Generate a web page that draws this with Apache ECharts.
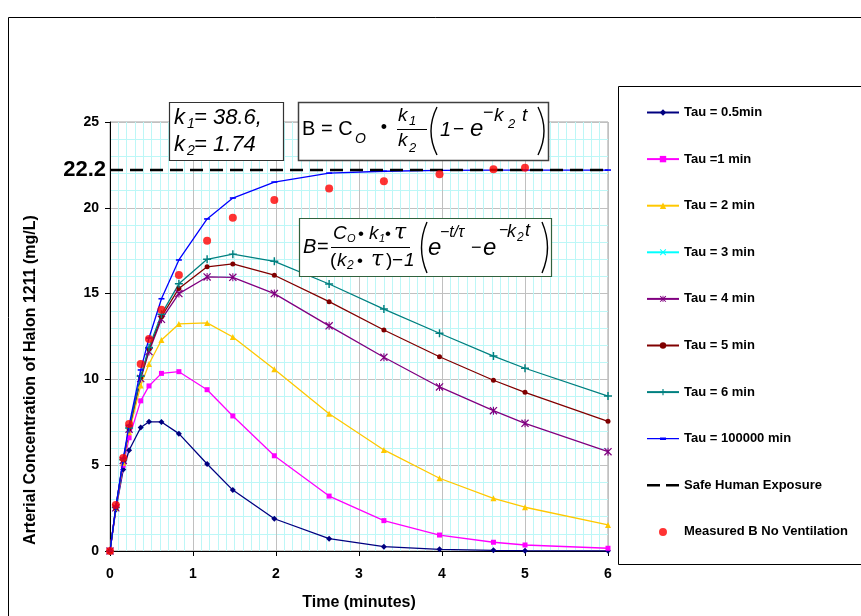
<!DOCTYPE html>
<html>
<head>
<meta charset="utf-8">
<script src="https://cdn.jsdelivr.net/npm/echarts@6/dist/echarts.min.js"></script>
<style>
html,body{margin:0;padding:0;background:#fff;}
#chart{width:861px;height:616px;}
</style>
</head>
<body>
<div id="chart"></div>
<script>
// ---------------- data ----------------
const times = [0, 0.07, 0.16, 0.23, 0.37, 0.47, 0.62, 0.83, 1.17, 1.48, 1.98, 2.64, 3.3, 3.97, 4.62, 5, 6];
const tau05 = [0, 2.4, 4.75, 5.87, 7.2, 7.53, 7.52, 6.84, 5.07, 3.55, 1.88, 0.72, 0.25, 0.1, 0.04, 0.02, 0.01];
const tau1 = [0, 2.5, 5.0, 6.6, 8.75, 9.62, 10.35, 10.45, 9.4, 7.87, 5.55, 3.2, 1.77, 0.93, 0.51, 0.35, 0.16];
const tau2 = [0, 2.5, 5.15, 6.92, 9.65, 10.9, 12.3, 13.23, 13.29, 12.47, 10.59, 8.0, 5.89, 4.24, 3.07, 2.55, 1.52];
const tau3 = [];
const tau4 = [0, 2.52, 5.28, 7.1, 10.05, 11.62, 13.5, 15.0, 15.97, 15.95, 15.0, 13.12, 11.29, 9.56, 8.18, 7.44, 5.79];
const tau5 = [0, 2.53, 5.3, 7.13, 10.11, 11.75, 13.65, 15.3, 16.56, 16.73, 16.07, 14.53, 12.88, 11.32, 9.95, 9.25, 7.56];
const tau6 = [0, 2.53, 5.32, 7.17, 10.18, 11.86, 13.8, 15.57, 17.0, 17.3, 16.88, 15.56, 14.1, 12.69, 11.36, 10.65, 9.03];
const tau100000 = [0, 2.55, 5.4, 7.33, 10.55, 12.41, 14.7, 16.96, 19.35, 20.57, 21.5, 22.02, 22.13, 22.18, 22.2, 22.2, 22.2];
const measured = [0, 2.68, 5.42, 7.4, 10.9, 12.35, 14.06, 16.08, 18.08, 19.42, 20.45, 21.13, 21.54, 21.95, 22.24, 22.34];
const safeLevel = 22.2;
const safeSpan = [0, 6];
const seriesNames = ['Tau = 0.5min', 'Tau =1 min', 'Tau = 2 min', 'Tau = 3 min', 'Tau = 4 min',
  'Tau = 5 min', 'Tau = 6 min', 'Tau = 100000 min', 'Safe Human Exposure', 'Measured B No Ventilation'];
const xRange = [0, 6, 1];
const yRange = [0, 25, 5];
const safeLabel = '22.2';

// ---------------- helpers ----------------
const FF = 'Liberation Sans, Arial, sans-serif';
const pairs = vals => vals.map((v, i) => [times[i], v]);
const PLUS = 'path://M4.1,0H5.9V4.1H10V5.9H5.9V10H4.1V5.9H0V4.1H4.1Z';
const CROSS = 'path://M0,1.1L1.1,0L10,8.9L8.9,10Z M8.9,0L10,1.1L1.1,10L0,8.9Z';
const STAR = 'path://M0,1.1L1.1,0L10,8.9L8.9,10Z M8.9,0L10,1.1L1.1,10L0,8.9Z M4.35,0H5.65V10H4.35Z';
const DASH = 'path://M0,0H10V2.6H0Z';

function lineSeries(name, vals, color, symbol, size, z) {
  return {
    type: 'line', name, data: pairs(vals), symbol, symbolSize: size,
    lineStyle: { color, width: 1.3 }, itemStyle: { color },
    z: z || 2, animation: false, emphasis: { disabled: true }
  };
}

function txt(x, y, s, size, o) {
  o = o || {};
  return {
    type: 'text', x, y, z: 60, silent: true,
    style: {
      text: s, fontSize: size, fontFamily: o.ff || FF,
      fontStyle: o.it ? 'italic' : 'normal', fontWeight: o.bold ? 'bold' : 'normal',
      fill: '#000', align: o.align || 'left', verticalAlign: 'middle'
    }
  };
}
function paren(x, y1, y2, cx) {
  return { type: 'bezierCurve', z: 60, silent: true,
    shape: { x1: x, y1, x2: x, y2, cpx1: cx, cpy1: (y1 + y2) / 2 },
    style: { stroke: '#000', lineWidth: 1.4, fill: null } };
}
function hline(x1, x2, y) {
  return { type: 'line', z: 60, silent: true, shape: { x1, y1: y, x2, y2: y }, style: { stroke: '#000', lineWidth: 1 } };
}
function box(x, y, w, h, stroke, lw) {
  return { type: 'rect', z: 55, silent: true, shape: { x, y, width: w, height: h }, style: { fill: '#fff', stroke, lineWidth: lw } };
}

const graphics = [
  // outer frame and legend frame
  { type: 'rect', z: 1, silent: true, shape: { x: 8.5, y: 17.5, width: 1000, height: 1000 }, style: { fill: 'none', stroke: '#000', lineWidth: 1 } },
  { type: 'rect', z: 1, silent: true, shape: { x: 618.5, y: 86.5, width: 400, height: 478 }, style: { fill: 'none', stroke: '#000', lineWidth: 1 } },
  // y axis title
  { type: 'text', x: 31, y: 380, rotation: Math.PI / 2, z: 60, silent: true,
    style: { text: 'Arterial Concentration of Halon 1211 (mg/L)', fontSize: 16, fontWeight: 'bold', fontFamily: FF, fill: '#000', align: 'center', verticalAlign: 'middle' } },
  // 22.2 label
  txt(106, 170, safeLabel, 22, { bold: true, align: 'right' }),
  // k box
  box(169.5, 102.5, 114, 58, '#333', 1.2),
  txt(174, 118, 'k', 22, { it: true }), txt(187, 124, '1', 14, { it: true }), txt(194, 118, '= 38.6,', 22, { it: true }),
  txt(174, 145, 'k', 22, { it: true }), txt(187, 151, '2', 14, { it: true }), txt(194, 145, '= 1.74', 22, { it: true }),
  // formula 1
  box(298.5, 102.5, 250, 58, '#404040', 1.5),
  txt(302, 129, 'B = C', 20), txt(355, 139, 'O', 14, { it: true }),
  txt(384, 128, '•', 18, { align: 'center' }),
  txt(398, 116, 'k', 19, { it: true }), txt(409, 121, '1', 13, { it: true }),
  hline(397, 427, 129.5),
  txt(398, 141, 'k', 19, { it: true }), txt(409, 148, '2', 13, { it: true }),
  paren(437, 107, 155, 425),
  txt(440, 130, '1', 20, { it: true }), txt(453, 130, '−', 19), txt(470, 129, 'e', 24, { it: true }),
  txt(483, 113, '−', 18), txt(494, 116, 'k', 19, { it: true }), txt(508, 124, '2', 13, { it: true }), txt(522, 116, 't', 19, { it: true }),
  paren(538, 107, 155, 550),
  // formula 2
  box(299.5, 218.5, 252, 58, '#31613c', 1.2),
  txt(303, 247, 'B', 20, { it: true }), txt(317, 247, '=', 20),
  txt(333, 234, 'C', 19, { it: true }), txt(347, 239, 'O', 11, { it: true }), txt(358, 234, '•', 17),
  txt(369, 234, 'k', 19, { it: true }), txt(379, 239, '1', 11, { it: true }), txt(385, 234, '•', 17),
  txt(394, 233, 'τ', 22, { it: true, ff: 'DejaVu Serif' }),
  hline(331, 410, 247.5),
  txt(330, 261, '(', 19), txt(337, 261, 'k', 19, { it: true }), txt(347, 266, '2', 12, { it: true }),
  txt(357, 261, '•', 17), txt(371, 260, 'τ', 22, { it: true, ff: 'DejaVu Serif' }), txt(386, 261, ')', 19),
  txt(392, 261, '−', 19), txt(404, 261, '1', 19, { it: true }),
  paren(427, 222, 273, 416),
  txt(428, 248, 'e', 24, { it: true }),
  txt(440, 233, '−t/τ', 16, { it: true }),
  txt(471, 248, '−', 18), txt(483, 248, 'e', 24, { it: true }),
  txt(499, 231, '−', 16), txt(507, 232, 'k', 18, { it: true }), txt(517, 238, '2', 12, { it: true }), txt(525, 231, 't', 18, { it: true }),
  paren(542, 222, 273, 553)
];

const series = [
  lineSeries(seriesNames[0], tau05, '#000080', 'diamond', 6),
  lineSeries(seriesNames[1], tau1, '#FF00FF', 'rect', 5),
  lineSeries(seriesNames[2], tau2, '#FFC800', 'triangle', 6),
  lineSeries(seriesNames[3], tau3, '#00FFFF', CROSS, 7),
  lineSeries(seriesNames[4], tau4, '#800080', STAR, 8),
  lineSeries(seriesNames[5], tau5, '#800000', 'circle', 5),
  lineSeries(seriesNames[6], tau6, '#008080', PLUS, 8),
  lineSeries(seriesNames[7], tau100000, '#0000FF', DASH, [6, 1.6], 3),
  {
    type: 'line', name: seriesNames[8], data: safeSpan.map(x => [x, safeLevel]), symbol: 'none',
    lineStyle: { color: '#000', width: 2.5, type: [13, 7] }, itemStyle: { color: '#000' },
    z: 4, animation: false, emphasis: { disabled: true }
  },
  {
    type: 'scatter', name: seriesNames[9], data: measured.map((v, i) => [times[i], v]),
    symbol: 'circle', symbolSize: 8, itemStyle: { color: '#FF0000' }, z: 5, animation: false,
    emphasis: { disabled: true }
  }
];

const chart = echarts.init(document.getElementById('chart'), null, { renderer: 'canvas' });
chart.setOption({
  backgroundColor: '#fff',
  animation: false,
  textStyle: { fontFamily: FF },
  grid: { left: 110, right: 253, top: 122, bottom: 65, show: true, borderColor: '#a0a0a0', borderWidth: 1, backgroundColor: '#fff' },
  legend: {
    orient: 'vertical', left: 641, top: 101, itemWidth: 32, itemHeight: 8, itemGap: 33.6,
    textStyle: { fontSize: 13, fontWeight: 'bold', color: '#000', fontFamily: FF },
    data: seriesNames.map(n => {
      if (n === 'Safe Human Exposure') return { name: n, icon: 'path://M0,0H13V2.6H0Z M19,0H32V2.6H19Z' };
      if (n === 'Tau = 100000 min') return { name: n, icon: 'path://M0,3.4H32V4.6H0Z M13,2.8H19V5.2H13Z M0,0H0.01V0.01H0Z M0,7.99H0.01V8H0Z' };
      if (n === 'Measured B No Ventilation') return { name: n, icon: 'path://M16,0A4,4 0 1,1 15.99,0Z M0,0H0.01V0.01H0Z M31.99,7.99H32V8H31.99Z' };
      return n;
    }),
    selectedMode: false
  },
  xAxis: {
    type: 'value', min: xRange[0], max: xRange[1], interval: xRange[2],
    name: 'Time (minutes)', nameLocation: 'middle', nameGap: 44,
    nameTextStyle: { fontSize: 16, fontWeight: 'bold', color: '#000', fontFamily: FF },
    axisLine: { show: true, onZero: false, lineStyle: { color: '#000', width: 1 } },
    axisTick: { show: true, length: 5, lineStyle: { color: '#000' } },
    axisLabel: { fontSize: 14, fontWeight: 'bold', color: '#000', margin: 16, fontFamily: FF },
    splitLine: { show: true, lineStyle: { color: '#c0c0c0', width: 1 } },
    minorTick: { show: false, splitNumber: 10 },
    minorSplitLine: { show: true, lineStyle: { color: '#bdf7f7', width: 1 } }
  },
  yAxis: {
    type: 'value', min: yRange[0], max: yRange[1], interval: yRange[2],
    axisLine: { show: true, onZero: false, lineStyle: { color: '#000', width: 1 } },
    axisTick: { show: true, length: 5, lineStyle: { color: '#000' } },
    axisLabel: { fontSize: 14, fontWeight: 'bold', color: '#000', margin: 11, fontFamily: FF },
    splitLine: { show: true, lineStyle: { color: '#c0c0c0', width: 1 } },
    minorTick: { show: false, splitNumber: 5 },
    minorSplitLine: { show: true, lineStyle: { color: '#bdf7f7', width: 1 } }
  },
  graphic: graphics,
  series
});
</script>
</body>
</html>
